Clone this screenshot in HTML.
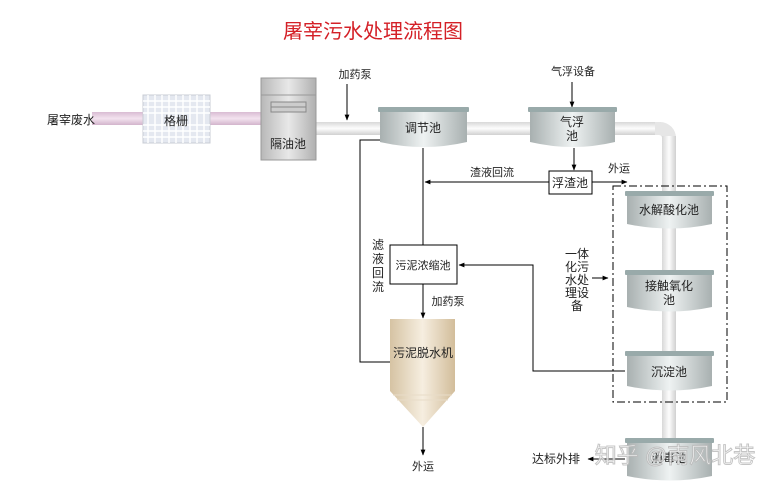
<!DOCTYPE html>
<html><head><meta charset="utf-8"><style>
html,body{margin:0;padding:0;background:#fff}
svg{display:block}
text{font-family:"Liberation Sans","Noto Sans CJK SC",sans-serif;font-size:12px;fill:#222}
</style></head><body>
<svg width="780" height="484" viewBox="0 0 780 484" xmlns="http://www.w3.org/2000/svg">
<defs>
<linearGradient id="pipe" x1="0" y1="0" x2="0" y2="1"><stop offset="0" stop-color="#d8d8d8"/><stop offset=".5" stop-color="#fdfdfd"/><stop offset="1" stop-color="#d0d0d0"/></linearGradient>
<linearGradient id="pipev" x1="0" y1="0" x2="1" y2="0"><stop offset="0" stop-color="#d8d8d8"/><stop offset=".5" stop-color="#fdfdfd"/><stop offset="1" stop-color="#d0d0d0"/></linearGradient>
<linearGradient id="pink" x1="0" y1="0" x2="0" y2="1"><stop offset="0" stop-color="#d9bcd3"/><stop offset=".5" stop-color="#f3e3ef"/><stop offset="1" stop-color="#d3b4cc"/></linearGradient>
<linearGradient id="tank" x1="0" y1="0" x2="1" y2="0"><stop offset="0" stop-color="#a8b0b0"/><stop offset=".5" stop-color="#eef2f2"/><stop offset="1" stop-color="#a8b0b0"/></linearGradient>
<linearGradient id="box" x1="0" y1="0" x2="1" y2="0"><stop offset="0" stop-color="#b8b8b8"/><stop offset=".5" stop-color="#e8e8e8"/><stop offset="1" stop-color="#b0b0b0"/></linearGradient>
<linearGradient id="tan" x1="0" y1="0" x2="1" y2="0"><stop offset="0" stop-color="#d6c3a3"/><stop offset=".5" stop-color="#f6eee0"/><stop offset="1" stop-color="#d2bd9a"/></linearGradient>
<marker id="a" viewBox="0 0 10 10" refX="9" refY="5" markerWidth="6" markerHeight="6" orient="auto"><path d="M0,1L10,5L0,9z" fill="#000"/></marker>
</defs>
<text x="373" y="38" text-anchor="middle" style="font-size:20px;fill:#d42027">屠宰污水处理流程图</text>

<!-- pipes -->
<rect x="92" y="112" width="170" height="13" fill="url(#pink)"/>
<rect x="316" y="122" width="345" height="13" fill="url(#pipe)"/>
<path d="M655,122 h5 a16,16 0 0 1 16,16 v0 h-14 a3,3 0 0 0 -3,-3 h-4z" fill="#e6e6e6"/>
<rect x="662" y="136" width="14" height="304" fill="url(#pipev)"/>
<text x="47" y="124">屠宰废水</text>

<!-- grating -->
<rect x="143" y="95" width="67" height="48" fill="#e4e8f0" stroke="#c8ccd4"/>
<g stroke="#fff" stroke-width="1.5">
<line x1="148" y1="95" x2="148" y2="143"/><line x1="155" y1="95" x2="155" y2="143"/><line x1="162" y1="95" x2="162" y2="143"/><line x1="169" y1="95" x2="169" y2="143"/><line x1="176" y1="95" x2="176" y2="143"/><line x1="183" y1="95" x2="183" y2="143"/><line x1="190" y1="95" x2="190" y2="143"/><line x1="197" y1="95" x2="197" y2="143"/><line x1="204" y1="95" x2="204" y2="143"/>
<line x1="143" y1="101" x2="210" y2="101"/><line x1="143" y1="107" x2="210" y2="107"/><line x1="143" y1="113" x2="210" y2="113"/><line x1="143" y1="125" x2="210" y2="125"/><line x1="143" y1="131" x2="210" y2="131"/><line x1="143" y1="137" x2="210" y2="137"/>
</g>
<text x="176" y="125" text-anchor="middle">格栅</text>

<!-- 隔油池 -->
<rect x="261" y="78" width="55" height="82" fill="url(#box)" stroke="#999"/>
<line x1="261" y1="95" x2="316" y2="95" stroke="#999"/>
<rect x="271" y="102" width="35" height="10" fill="#ccc" stroke="#888"/>
<line x1="271" y1="107" x2="306" y2="107" stroke="#888"/>
<text x="288" y="148" text-anchor="middle">隔油池</text>

<text x="355" y="78" text-anchor="middle" style="font-size:11px">加药泵</text>
<line x1="347" y1="84" x2="347" y2="120" stroke="#000" marker-end="url(#a)"/>
<text x="573" y="75" text-anchor="middle" style="font-size:11px">气浮设备</text>
<line x1="572" y1="82" x2="572" y2="107" stroke="#000" marker-end="url(#a)"/>

<!-- tanks -->
<g id="t">
</g>
<path d="M380,110 h87 v32 q-43,10 -87,0z" fill="url(#tank)"/><rect x="378" y="107" width="91" height="5" fill="#9aa" rx="1"/>
<text x="423" y="132" text-anchor="middle">调节池</text>
<path d="M530,110 h85 v32 q-42,10 -85,0z" fill="url(#tank)"/><rect x="528" y="107" width="89" height="5" fill="#9aa" rx="1"/>
<text x="572" y="126" text-anchor="middle">气浮</text><text x="572" y="140" text-anchor="middle">池</text>

<path d="M627,194 h85 v30 q-42,9 -85,0z" fill="url(#tank)"/><rect x="625" y="191" width="89" height="5" fill="#9aa" rx="1"/>
<text x="669" y="214" text-anchor="middle">水解酸化池</text>
<path d="M627,273 h85 v34 q-42,9 -85,0z" fill="url(#tank)"/><rect x="625" y="270" width="89" height="5" fill="#9aa" rx="1"/>
<text x="669" y="290" text-anchor="middle">接触氧化</text><text x="669" y="304" text-anchor="middle">池</text>
<path d="M627,354 h85 v32 q-42,9 -85,0z" fill="url(#tank)"/><rect x="625" y="351" width="89" height="5" fill="#9aa" rx="1"/>
<text x="669" y="376" text-anchor="middle">沉淀池</text>
<path d="M627,441 h85 v35 q-42,9 -85,0z" fill="url(#tank)"/><rect x="625" y="438" width="89" height="5" fill="#9aa" rx="1"/>
<text x="669" y="462" text-anchor="middle">消毒池</text>

<!-- dashed box -->
<rect x="613" y="186" width="114" height="216" fill="none" stroke="#000" stroke-dasharray="8,3,2,3"/>

<!-- 浮渣池 -->
<line x1="574" y1="148" x2="574" y2="170" stroke="#000" marker-end="url(#a)"/>
<rect x="549" y="171" width="43" height="23" fill="#fff" stroke="#000"/>
<text x="570" y="187" text-anchor="middle">浮渣池</text>
<line x1="592" y1="182" x2="627" y2="182" stroke="#000" marker-end="url(#a)"/>
<text x="619" y="172" text-anchor="middle" style="font-size:11px">外运</text>
<line x1="549" y1="182" x2="425" y2="182" stroke="#000" marker-end="url(#a)"/>
<text x="492" y="176" text-anchor="middle" style="font-size:11px">渣液回流</text>
<line x1="423" y1="148" x2="423" y2="245" stroke="#000"/>
<polyline points="380,140 360,140 360,362 390,362" fill="none" stroke="#000"/>
<g style="font-size:11px"><text x="378" y="249" text-anchor="middle">滤</text><text x="378" y="263" text-anchor="middle">液</text><text x="378" y="277" text-anchor="middle">回</text><text x="378" y="291" text-anchor="middle">流</text></g>

<!-- 浓缩池 -->
<rect x="390" y="245" width="67" height="39" fill="#fff" stroke="#000"/>
<text x="423" y="269" text-anchor="middle" style="font-size:11px">污泥浓缩池</text>
<polyline points="625,371 533,371 533,265 459,265" fill="none" stroke="#000" marker-end="url(#a)"/>
<line x1="423" y1="284" x2="423" y2="318" stroke="#000" marker-end="url(#a)"/>
<text x="448" y="305" text-anchor="middle" style="font-size:11px">加药泵</text>
<g style="font-size:11px"><text x="577" y="258" text-anchor="middle">一体</text><text x="577" y="271" text-anchor="middle">化污</text><text x="577" y="284" text-anchor="middle">水处</text><text x="577" y="297" text-anchor="middle">理设</text><text x="577" y="310" text-anchor="middle">备</text></g>
<line x1="592" y1="278" x2="608" y2="278" stroke="#000" marker-end="url(#a)"/>

<!-- 脱水机 -->
<path d="M390,319 h65 v72 l-32,36 l-33,-36z" fill="url(#tan)"/>
<g stroke="#e8dcc8"><line x1="393" y1="395" x2="452" y2="395"/><line x1="397" y1="400" x2="448" y2="400"/></g>
<text x="423" y="357" text-anchor="middle">污泥脱水机</text>
<line x1="423" y1="427" x2="423" y2="455" stroke="#000" marker-end="url(#a)"/>
<text x="423" y="470" text-anchor="middle" style="font-size:11px">外运</text>

<line x1="625" y1="459" x2="588" y2="459" stroke="#000" marker-end="url(#a)"/>
<text x="556" y="463" text-anchor="middle">达标外排</text>
<text x="675" y="463" text-anchor="middle" style="font-size:22px;fill:#fff;stroke:#bbb;stroke-width:1;opacity:.85">知乎 @南风北巷</text>
</svg>
</body></html>
